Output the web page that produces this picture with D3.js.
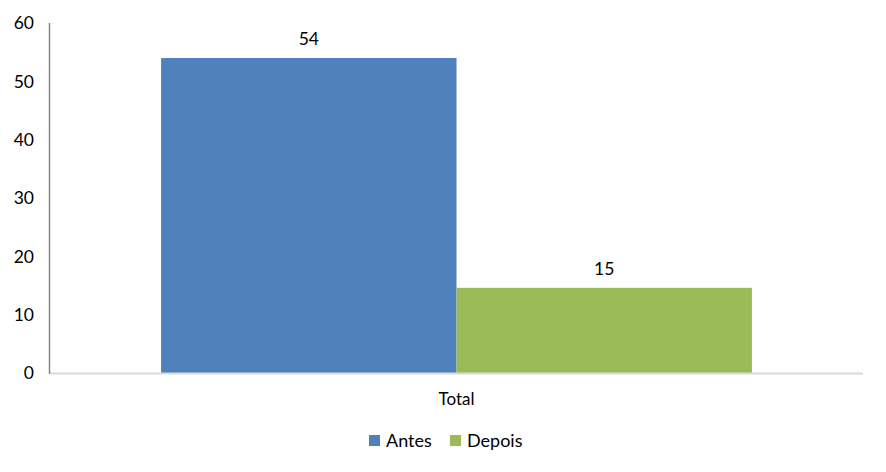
<!DOCTYPE html>
<html><head><meta charset="utf-8">
<script src="https://cdn.jsdelivr.net/npm/d3@7"></script>
<style>body{margin:0;background:#fff}text{font-family:Lato,"Open Sans",sans-serif;fill:#000}</style>
</head><body><svg id="c" width="886" height="472"></svg>
<script>
const categories = ["Total"];
const seriesNames = ["Antes", "Depois"];
const antes = [54];
const depois = [14.6];
const yTicks = [0, 10, 20, 30, 40, 50, 60];
const colors = ["#4f81bd", "#9bbb59"];

const svg = d3.select("#c");
const m = {l: 50, r: 863, t: 23, b: 373};
const y = d3.scaleLinear().domain([0, 60]).range([m.b, m.t]);
const x0 = d3.scaleBand().domain(categories).range([m.l, m.r]).paddingInner(0).paddingOuter(0.188);
const x1 = d3.scaleBand().domain(seriesNames).range([0, x0.bandwidth()]).padding(0);
const data = categories.map((c, i) => ({cat: c, vals: [{s: "Antes", v: antes[i]}, {s: "Depois", v: depois[i]}]}));

// y tick labels
svg.append("g").selectAll("text").data(yTicks).join("text")
  .attr("x", 34).attr("y", d => y(d)).attr("dy", "0.36em")
  .attr("text-anchor", "end").attr("font-size", 17.5).text(d => d);

// bars
const g = svg.append("g").selectAll("g").data(data).join("g")
  .attr("transform", d => `translate(${x0(d.cat)},0)`);
g.selectAll("rect").data(d => d.vals).join("rect")
  .attr("x", d => x1(d.s)).attr("width", x1.bandwidth())
  .attr("y", d => y(d.v)).attr("height", d => y(0) - y(d.v))
  .attr("fill", (d, i) => colors[i]);
g.selectAll("text.lbl").data(d => d.vals).join("text").attr("class", "lbl")
  .attr("x", d => x1(d.s) + x1.bandwidth() / 2).attr("y", d => y(d.v) - 13)
  .attr("text-anchor", "middle").attr("font-size", 17.5).text(d => d3.format(".0f")(d.v));

// axes lines
svg.append("line").attr("x1", m.l).attr("x2", m.r).attr("y1", m.b + 0.5).attr("y2", m.b + 0.5)
  .attr("stroke", "#d9d9d9").attr("stroke-width", 2);
svg.append("line").attr("x1", 49.5).attr("x2", 49.5).attr("y1", m.t).attr("y2", m.b + 1)
  .attr("stroke", "#868686").attr("stroke-width", 1.5);

// category label
svg.append("g").selectAll("text").data(categories).join("text")
  .attr("x", d => x0(d) + x0.bandwidth() / 2).attr("y", 405)
  .attr("text-anchor", "middle").attr("font-size", 17).text(d => d);

// legend
const lx = [369, 450];
const lg = svg.append("g").selectAll("g").data(seriesNames).join("g")
  .attr("transform", (d, i) => `translate(${lx[i]},435)`);
lg.append("rect").attr("width", 11).attr("height", 11).attr("fill", (d, i) => colors[i]);
lg.append("text").attr("x", 17).attr("y", 12).attr("font-size", 18).text(d => d);
</script></body></html>
